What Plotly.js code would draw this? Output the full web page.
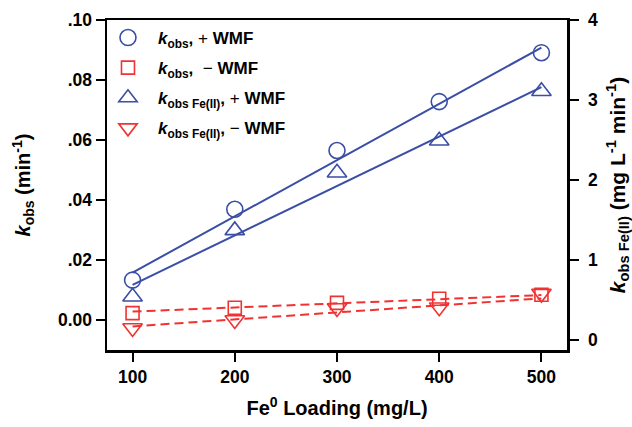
<!DOCTYPE html>
<html>
<head>
<meta charset="utf-8">
<script src="https://cdn.plot.ly/plotly-3.0.1.min.js"></script>
<style>html,body{margin:0;padding:0;background:#fff;}#chart{width:632px;height:427px;}</style>
</head>
<body>
<div id="chart"></div>
<script>
// Fe0 loading (mg/L)
const loading = [100, 200, 300, 400, 500];
// k_obs (min^-1), left axis
const kobsPlus  = [0.0133, 0.0369, 0.0565, 0.0728, 0.0891];
const kobsMinus = [0.0023, 0.0041, 0.0057, 0.0071, 0.0084];
// k_obs Fe(II) (mg L^-1 min^-1), right axis
const kfePlus  = [0.54, 1.37, 2.09, 2.49, 3.11];
const kfeMinus = [0.15, 0.25, 0.40, 0.41, 0.58];
// fitted lines (end points)
const fitX = [100, 500];
const fitKobsPlus  = [0.0158, 0.0908];
const fitKobsMinus = [0.0028, 0.0083];
const fitKfePlus   = [0.69, 3.16];
const fitKfeMinus  = [0.17, 0.52];
// tick labels
const yTickVals = [0, 0.02, 0.04, 0.06, 0.08, 0.10];
const yTickText = ['0.00', '.02', '.04', '.06', '.08', '.10'];
const y2TickVals = [0, 1, 2, 3, 4];
const xTickVals = [100, 200, 300, 400, 500];
const legendNames = [
  '<i>k</i><sub>obs</sub>, <span style="font-weight:normal">+</span> WMF',
  '<i>k</i><sub>obs</sub>,  <span style="font-weight:normal">\u2212</span> WMF',
  '<i>k</i><sub>obs Fe(II)</sub>, <span style="font-weight:normal">+</span> WMF',
  '<i>k</i><sub>obs Fe(II)</sub>, <span style="font-weight:normal">\u2212</span> WMF'
];

const BLUE = '#3a4ea6';
const RED = '#f03232';
const FONT = 'Liberation Sans, Arial, sans-serif';

const traces = [
  {x: fitX, y: fitKobsPlus, mode: 'lines', line: {color: BLUE, width: 2}, showlegend: false, hoverinfo: 'skip'},
  {x: fitX, y: fitKfePlus, yaxis: 'y2', mode: 'lines', line: {color: BLUE, width: 2}, showlegend: false, hoverinfo: 'skip'},
  {x: fitX, y: fitKobsMinus, mode: 'lines', line: {color: RED, width: 2, dash: '9px,5px'}, showlegend: false, hoverinfo: 'skip'},
  {x: fitX, y: fitKfeMinus, yaxis: 'y2', mode: 'lines', line: {color: RED, width: 2, dash: '9px,5px'}, showlegend: false, hoverinfo: 'skip'},
  {x: loading, y: kobsPlus, name: legendNames[0], mode: 'markers', legendgroup: 'a',
   marker: {symbol: 'circle-open', size: 16, color: BLUE, line: {width: 1.6, color: BLUE}}},
  {x: loading, y: kobsMinus, name: legendNames[1], mode: 'markers', legendgroup: 'b',
   marker: {symbol: 'square-open', size: 13, color: RED, line: {width: 1.6, color: RED}}},
  {x: loading, y: kfePlus, yaxis: 'y2', name: legendNames[2], mode: 'markers', legendgroup: 'c',
   marker: {symbol: 'triangle-up-open', size: 17, color: BLUE, line: {width: 1.6, color: BLUE}}},
  {x: loading, y: kfeMinus, yaxis: 'y2', name: legendNames[3], mode: 'markers', legendgroup: 'd',
   marker: {symbol: 'triangle-down-open', size: 17, color: RED, line: {width: 1.6, color: RED}}}
];

const tickFont = {family: FONT, size: 17.5, color: '#000', weight: 'bold'};
const axisCommon = {
  showgrid: false, zeroline: false, showline: true, linecolor: '#000', linewidth: 2.5,
  ticks: 'outside', ticklen: 9, tickwidth: 2, tickcolor: '#000', tickfont: tickFont
};

const layout = {
  width: 632, height: 427,
  margin: {l: 107, r: 65, t: 20, b: 77},
  paper_bgcolor: '#fff', plot_bgcolor: '#fff',
  font: {family: FONT, color: '#000', weight: 'bold'},
  xaxis: Object.assign({}, axisCommon, {
    range: [75, 525], tickvals: xTickVals, mirror: true,
    title: {text: 'Fe<sup>0</sup> Loading (mg/L)', font: {family: FONT, size: 20, color: '#000', weight: 'bold'}, standoff: 16}
  }),
  yaxis: Object.assign({}, axisCommon, {
    range: [-0.01, 0.10], tickvals: yTickVals, ticktext: yTickText, mirror: true,
    title: {text: '<i>k</i><sub>obs</sub> (min<sup>-1</sup>)', font: {family: FONT, size: 20, color: '#000', weight: 'bold'}, standoff: 22}
  }),
  yaxis2: Object.assign({}, axisCommon, {
    overlaying: 'y', side: 'right', range: [-0.125, 4], tickvals: y2TickVals, ticklabelstandoff: 6,
    title: {text: '<i>k</i><sub>obs Fe(II)</sub> (mg L<sup>-1</sup> min<sup>-1</sup>)', font: {family: FONT, size: 21, color: '#000', weight: 'bold'}, standoff: 23}
  }),
  showlegend: true,
  legend: {
    x: -0.0196, y: 1.0, xanchor: 'left', yanchor: 'top',
    bgcolor: 'rgba(0,0,0,0)', borderwidth: 0, tracegroupgap: 5,
    font: {family: FONT, size: 17, color: '#000', weight: 'bold'},
    itemwidth: 50, traceorder: 'grouped'
  }
};

Plotly.newPlot('chart', traces, layout, {displayModeBar: false, staticPlot: true});
</script>
</body>
</html>
